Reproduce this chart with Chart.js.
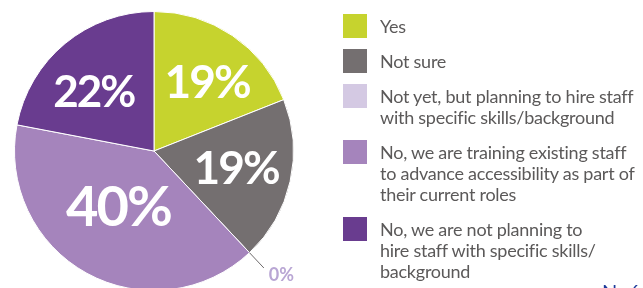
<!DOCTYPE html>
<html lang="en">
<head>
<meta charset="utf-8">
<title>Hiring staff with accessibility skills</title>
<script src="https://cdn.jsdelivr.net/npm/chart.js@4.4.1/dist/chart.umd.min.js"></script>
<style>
  html, body { margin: 0; padding: 0; background: #fff; }
  body {
    position: relative;
    width: 643px;
    height: 288px;
    overflow: hidden;
    font-family: Lato, "Open Sans", sans-serif;
  }
  .chart-wrap { position: absolute; left: 0; top: 0; width: 643px; height: 300px; }
  .legend { position: absolute; left: 343px; top: 14px; margin: 0; padding: 0; list-style: none; }
  .legend li { display: flex; align-items: flex-start; margin-bottom: 14px; }
  .legend .swatch { flex: none; width: 24px; height: 24px; margin-right: 13px; margin-bottom: -3px; }
  .legend .text {
    position: relative;
    top: 1.5px;
    font-size: 18px;
    line-height: 21px;
    letter-spacing: -0.25px;
    color: #5b5959;
    white-space: nowrap;
  }
  .note { position: absolute; left: 602px; top: 279px; font-size: 20px; color: #1d3a9a; white-space: nowrap; }
</style>
</head>
<body>
<div class="chart-wrap"><canvas id="pie-chart"></canvas></div>
<ul class="legend"></ul>
<div class="note">N=6</div>

<script>
// Answer options, legend wrapped the same way as the print
const categories = [
  ["Yes"],
  ["Not sure"],
  ["Not yet, but planning to hire staff", "with specific skills/background"],
  ["No, we are training existing staff", "to advance accessibility as part of", "their current roles"],
  ["No, we are not planning to", "hire staff with specific skills/", "background"],
];
// Share of respondents, %
const shares = [19, 19, 0, 40, 22];

const sliceColors = ["#c6d32e", "#746f70", "#d4c9e3", "#a584bc", "#693c8f"];

// Label styling per slice: font size, distance from centre (fraction of radius), angle nudge (deg)
const labelSize = [46, 46, 18, 56, 44];
const labelFrac = [0.63, 0.6, 0, 0.47, 0.61];
const labelTurn = [3, -1.5, 0, 4, -5.5];

const pieLabels = {
  id: "pieLabels",
  afterDatasetsDraw(chart) {
    const { ctx } = chart;
    const meta = chart.getDatasetMeta(0);

    meta.data.forEach((arc, i) => {
      const { x, y, startAngle, endAngle, outerRadius } =
        arc.getProps(["x", "y", "startAngle", "endAngle", "outerRadius"], true);
      const text = `${shares[i]}%`;
      ctx.save();

      if (shares[i] === 0) {
        // tiny slice: leader line out of the pie and a small label
        const a = startAngle;
        const x1 = x + Math.cos(a) * outerRadius;
        const y1 = y + Math.sin(a) * outerRadius;
        const x2 = x + Math.cos(a) * (outerRadius + 21);
        const y2 = y + Math.sin(a) * (outerRadius + 21);
        ctx.strokeStyle = "#6d6a6b";
        ctx.lineWidth = 1;
        ctx.beginPath();
        ctx.moveTo(x1, y1);
        ctx.lineTo(x2, y2);
        ctx.stroke();

        ctx.font = `700 ${labelSize[i]}px Lato, sans-serif`;
        ctx.fillStyle = "#b9a6d4";
        ctx.textAlign = "left";
        ctx.textBaseline = "alphabetic";
        ctx.fillText(text, x2 + 5, y2 + 13);
        ctx.restore();
        return;
      }

      const mid = (startAngle + endAngle) / 2 + (labelTurn[i] * Math.PI) / 180;
      const r = outerRadius * labelFrac[i];
      const lx = x + Math.cos(mid) * r;
      const ly = y + Math.sin(mid) * r;

      ctx.font = `700 ${labelSize[i]}px Lato, sans-serif`;
      ctx.letterSpacing = "-2px";
      ctx.fillStyle = "#ffffff";
      ctx.textAlign = "center";
      ctx.textBaseline = "alphabetic";
      ctx.fillText(text, lx, ly + labelSize[i] * 0.36);
      ctx.restore();
    });
  },
};

const chart = new Chart(document.querySelector("#pie-chart"), {
  type: "pie",
  data: {
    labels: categories,
    datasets: [{
      data: shares,
      backgroundColor: sliceColors,
      borderColor: "#ffffff",
      borderWidth: 1,
    }],
  },
  options: {
    responsive: true,
    maintainAspectRatio: false,
    animation: false,
    layout: { padding: { left: 14, top: 11, right: 349, bottom: 9 } },
    plugins: {
      legend: { display: false },
      tooltip: { enabled: false },
    },
  },
  plugins: [pieLabels],
});

// HTML legend from the chart's own labels and colours
const legendEl = document.querySelector(".legend");
chart.data.labels.forEach((lines, i) => {
  const li = document.createElement("li");
  const swatch = document.createElement("span");
  swatch.className = "swatch";
  swatch.style.background = chart.data.datasets[0].backgroundColor[i];
  const text = document.createElement("span");
  text.className = "text";
  lines.forEach((line, j) => {
    if (j) text.appendChild(document.createElement("br"));
    text.appendChild(document.createTextNode(line));
  });
  li.append(swatch, text);
  legendEl.appendChild(li);
});
</script>
</body>
</html>
